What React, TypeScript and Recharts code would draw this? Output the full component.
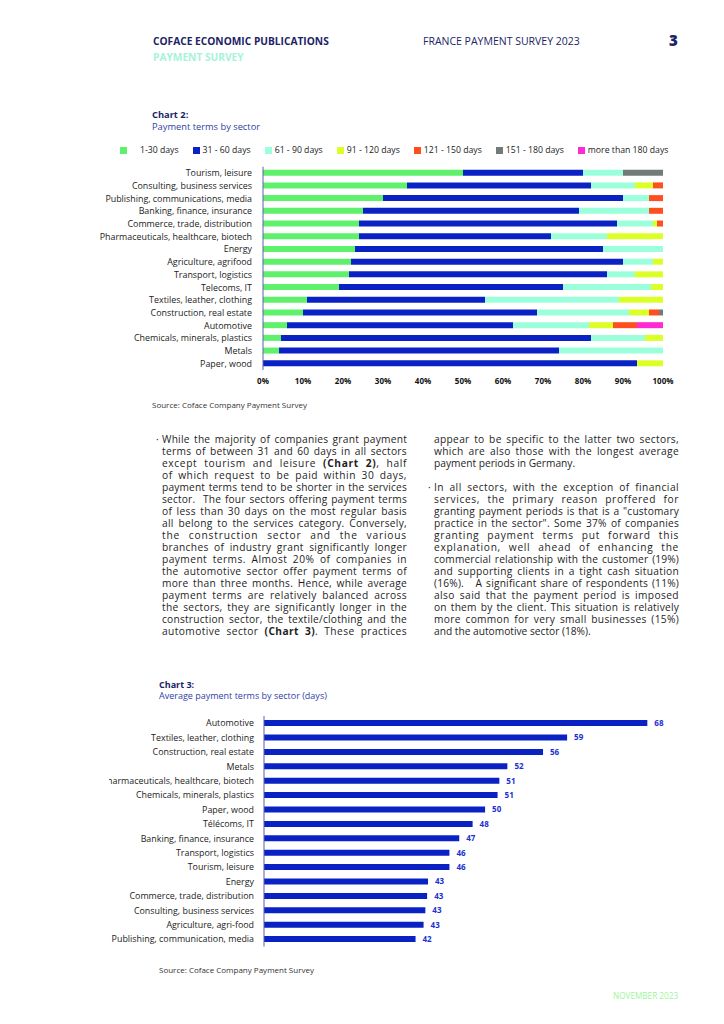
import React from 'react';
import { BarChart, Bar, XAxis, YAxis, LabelList } from 'recharts';

// Chart 2: payment terms by sector (% of companies)
const sectors2 = [
  'Tourism, leisure',
  'Consulting, business services',
  'Publishing, communications, media',
  'Banking, finance, insurance',
  'Commerce, trade, distribution',
  'Pharmaceuticals, healthcare, biotech',
  'Energy',
  'Agriculture, agrifood',
  'Transport, logistics',
  'Telecoms, IT',
  'Textiles, leather, clothing',
  'Construction, real estate',
  'Automotive',
  'Chemicals, minerals, plastics',
  'Metals',
  'Paper, wood',
];
const days1to30 = [50, 36, 30, 25, 24, 24, 23, 22, 21.5, 19, 11, 10, 6, 4.5, 4, 0];
const days31to60 = [30, 46, 60, 54, 64.5, 48, 62, 68, 64.5, 56, 44.5, 58.5, 56.5, 77.5, 70, 93.5];
const days61to90 = [10, 11, 6.5, 17.5, 9, 14, 15, 7.5, 7, 22, 33.5, 23, 19, 13.5, 26, 0];
const days91to120 = [0, 4.5, 0, 0, 1, 14, 0, 2.5, 7, 3, 11, 5, 6, 4.5, 0, 6.5];
const days121to150 = [0, 2.5, 3.5, 3.5, 1.5, 0, 0, 0, 0, 0, 0, 2.5, 6, 0, 0, 0];
const days151to180 = [10, 0, 0, 0, 0, 0, 0, 0, 0, 0, 0, 1, 0, 0, 0, 0];
const daysOver180 = [0, 0, 0, 0, 0, 0, 0, 0, 0, 0, 0, 0, 6.5, 0, 0, 0];

const rangeNames = ['1-30 days', '31 - 60 days', '61 - 90 days', '91 - 120 days', '121 - 150 days', '151 - 180 days', 'more than 180 days'];
const rangeKeys = ['d1', 'd2', 'd3', 'd4', 'd5', 'd6', 'd7'];
const rangeValues = [days1to30, days31to60, days61to90, days91to120, days121to150, days151to180, daysOver180];
const rangeColors = ['#5ff06c', '#0a22c4', '#9cffdc', '#dcff28', '#ff4f1f', '#737b78', '#ff2ad2'];
const pctTicks = [0, 10, 20, 30, 40, 50, 60, 70, 80, 90, 100];

// Chart 3: average payment terms by sector (days)
const sectors3 = [
  'Automotive',
  'Textiles, leather, clothing',
  'Construction, real estate',
  'Metals',
  'Pharmaceuticals, healthcare, biotech',
  'Chemicals, minerals, plastics',
  'Paper, wood',
  'Télécoms, IT',
  'Banking, finance, insurance',
  'Transport, logistics',
  'Tourism, leisure',
  'Energy',
  'Commerce, trade, distribution',
  'Consulting, business services',
  'Agriculture, agri-food',
  'Publishing, communication, media',
];
const avgDays = [68.0, 59.0, 56.3, 52.3, 51.4, 51.2, 49.8, 48.4, 46.9, 45.8, 45.8, 43.4, 43.3, 43.1, 42.9, 42.0];

const leftLines = [
  'While the majority of companies grant payment',
  'terms of between 31 and 60 days in all sectors',
  'except tourism and leisure **(Chart 2)**, half',
  'of which request to be paid within 30 days,',
  'payment terms tend to be shorter in the services',
  'sector.  The four sectors offering payment terms',
  'of less than 30 days on the most regular basis',
  'all belong to the services category. Conversely,',
  'the construction sector and the various',
  'branches of industry grant significantly longer',
  'payment terms. Almost 20% of companies in',
  'the automotive sector offer payment terms of',
  'more than three months. Hence, while average',
  'payment terms are relatively balanced across',
  'the sectors, they are significantly longer in the',
  'construction sector, the textile/clothing and the',
  'automotive sector **(Chart 3)**. These practices',
];
const rightPara1 = [
  'appear to be specific to the latter two sectors,',
  'which are also those with the longest average',
  'payment periods in Germany.',
];
const rightPara2 = [
  'In all sectors, with the exception of financial',
  'services, the primary reason proffered for',
  'granting payment periods is that is a "customary',
  'practice in the sector". Some 37% of companies',
  'granting payment terms put forward this',
  'explanation, well ahead of enhancing the',
  'commercial relationship with the customer (19%)',
  'and supporting clients in a tight cash situation',
  '(16%).   A significant share of respondents (11%)',
  'also said that the payment period is imposed',
  'on them by the client. This situation is relatively',
  'more common for very small businesses (15%)',
  'and the automotive sector (18%).',
];

const FONT = '"Open Sans", sans-serif';
const NAVY = '#1c2366';
const TITLE_BLUE = '#2f3ea6';
const AXIS = '#5a64a8';
const BAR_BLUE = '#0a22c4';
const BODY_SIZE = 10.2;
const COL_W = 245;

const chart2Data = sectors2.map((sector, i) => {
  const row: Record<string, string | number> = { sector };
  rangeKeys.forEach((k, j) => {
    row[k] = rangeValues[j][i];
  });
  return row;
});
const chart3Data = sectors3.map((sector, i) => ({ sector, days: avgDays[i] }));

// measure text so each line can be stretched to the column width (letters + words)
const ctx = typeof document !== 'undefined' ? document.createElement('canvas').getContext('2d') : null;
const measure = (t: string, bold: boolean) => {
  if (!ctx) return t.length * BODY_SIZE * 0.52;
  ctx.font = `${bold ? 700 : 400} ${BODY_SIZE}px "Open Sans"`;
  return ctx.measureText(t).width;
};

const JustLine = ({ text, justify }: { text: string; justify: boolean }) => {
  const parts = text.split(/\*\*(.+?)\*\*/);
  const plain = parts.join('');
  const natural = parts.reduce((s, p, i) => s + measure(p, i % 2 === 1), 0);
  const spaces = (plain.match(/ /g) || []).length;
  const extra = justify ? COL_W - natural : 0;
  const ls = justify ? (extra * 0.55) / plain.length : 0;
  const ws = justify && spaces ? (extra * 0.45) / spaces : 0;
  return (
    <div style={{ height: 12, whiteSpace: 'pre', letterSpacing: ls, wordSpacing: ws }}>
      {parts.map((p, i) => (i % 2 === 1 ? <b key={i}>{p}</b> : <span key={i}>{p}</span>))}
    </div>
  );
};

const TextBlock = ({ lines, left, top, lastLeft, bullet }: { lines: string[]; left: number; top: number; lastLeft: boolean; bullet: boolean }) => (
  <div style={{ position: 'absolute', left, top, width: COL_W, fontSize: BODY_SIZE, lineHeight: '12px', color: '#1e1e1e' }}>
    {bullet && <span style={{ position: 'absolute', left: -6, top: 0 }}>·</span>}
    {lines.map((l, i) => (
      <JustLine key={i} text={l} justify={!(lastLeft && i === lines.length - 1)} />
    ))}
  </div>
);

const abs = (left: number, top: number, extra: React.CSSProperties = {}): React.CSSProperties => ({
  position: 'absolute',
  left,
  top,
  whiteSpace: 'nowrap',
  ...extra,
});

// one-line category tick (the default one wraps long names)
const SectorTick = (props: any) => {
  const { x, y, payload } = props;
  return (
    <text x={x} y={y} dy="0.355em" textAnchor="end" fontSize={8.9} fill="#222" fontFamily={FONT}>
      {payload.value}
    </text>
  );
};

export default function App() {
  return (
    <div style={{ position: 'absolute', left: 0, top: 0, width: 724, height: 1024, background: '#fff', fontFamily: FONT, overflow: 'hidden' }}>
      {/* page header */}
      <div style={abs(153, 35, { fontSize: 10.2, fontWeight: 700, color: NAVY, lineHeight: '13px' })}>COFACE ECONOMIC PUBLICATIONS</div>
      <div style={abs(153, 51, { fontSize: 10.2, fontWeight: 700, color: '#a6f3da', lineHeight: '13px' })}>PAYMENT SURVEY</div>
      <div style={abs(423, 35, { fontSize: 10.5, color: NAVY, lineHeight: '13px' })}>FRANCE PAYMENT SURVEY 2023</div>
      <div style={abs(669, 31, { fontSize: 15, fontWeight: 800, color: NAVY, lineHeight: '18px' })}>3</div>

      {/* chart 2 */}
      <div style={abs(152, 109, { fontSize: 9.3, fontWeight: 700, color: NAVY, lineHeight: '12px' })}>Chart 2:</div>
      <div style={abs(152, 121, { fontSize: 9.3, color: TITLE_BLUE, lineHeight: '12px' })}>Payment terms by sector</div>
      <div style={abs(120, 144, { display: 'flex', alignItems: 'center', fontSize: 8.7, color: '#222', lineHeight: '12px' })}>
        {rangeNames.map((name, i) => (
          <div key={name} style={{ display: 'flex', alignItems: 'center', marginRight: 14 }}>
            <span style={{ display: 'inline-block', width: 7, height: 7, background: rangeColors[i], marginRight: i === 0 ? 13 : 3 }} />
            <span>{name}</span>
          </div>
        ))}
      </div>
      <div style={abs(0, 160)}>
        <BarChart width={700} height={235} data={chart2Data} layout="vertical" margin={{ top: 6.7, right: 37, bottom: 5, left: 0 }}>
          <XAxis
            type="number"
            domain={[0, 100]}
            ticks={pctTicks}
            interval={0}
            tickFormatter={(v) => `${v}%`}
            axisLine={false}
            tickLine={false}
            tickSize={0}
            tickMargin={8}
            height={20}
            tick={{ fontSize: 8, fontWeight: 700, fill: '#111', fontFamily: FONT }}
          />
          <YAxis
            type="category"
            dataKey="sector"
            width={263}
            interval={0}
            axisLine={{ stroke: AXIS, strokeWidth: 1 }}
            tickLine={false}
            tickSize={0}
            tickMargin={11}
            tick={<SectorTick />}
          />
          {rangeKeys.map((k, i) => (
            <Bar key={k} dataKey={k} name={rangeNames[i]} stackId="terms" fill={rangeColors[i]} barSize={6} isAnimationActive={false} />
          ))}
        </BarChart>
      </div>
      <div style={abs(152, 400, { fontSize: 8, color: '#333', lineHeight: '10px' })}>Source: Coface Company Payment Survey</div>

      {/* body text */}
      <TextBlock lines={leftLines} left={162} top={433} lastLeft={false} bullet />
      <TextBlock lines={rightPara1} left={434} top={433} lastLeft bullet={false} />
      <TextBlock lines={rightPara2} left={434} top={481} lastLeft bullet />

      {/* chart 3 */}
      <div style={abs(159, 679, { fontSize: 9, fontWeight: 700, color: NAVY, lineHeight: '11px' })}>Chart 3:</div>
      <div style={abs(159, 690, { fontSize: 9, color: TITLE_BLUE, lineHeight: '11px' })}>Average payment terms by sector (days)</div>
      <div style={abs(109, 710, { width: 600, height: 245, overflow: 'hidden' })}>
        <BarChart width={600} height={245} data={chart3Data} layout="vertical" margin={{ top: 6.1, right: 26, bottom: 8.5, left: 0 }}>
          <XAxis type="number" domain={[25, 72]} hide />
          <YAxis
            type="category"
            dataKey="sector"
            width={155}
            interval={0}
            axisLine={{ stroke: AXIS, strokeWidth: 1 }}
            tickLine={false}
            tickSize={0}
            tickMargin={10}
            tick={<SectorTick />}
          />
          <Bar dataKey="days" fill={BAR_BLUE} barSize={6} isAnimationActive={false}>
            <LabelList
              dataKey="days"
              position="right"
              offset={7}
              formatter={(v: any) => Math.round(Number(v))}
              style={{ fontSize: 8, fontWeight: 700, fill: '#1a30d0', fontFamily: FONT }}
            />
          </Bar>
        </BarChart>
      </div>
      <div style={abs(159, 965, { fontSize: 8, color: '#333', lineHeight: '10px' })}>Source: Coface Company Payment Survey</div>

      {/* footer */}
      <div style={abs(613, 991, { fontSize: 8.2, color: '#9ef59a', lineHeight: '10px' })}>NOVEMBER 2023</div>
    </div>
  );
}
